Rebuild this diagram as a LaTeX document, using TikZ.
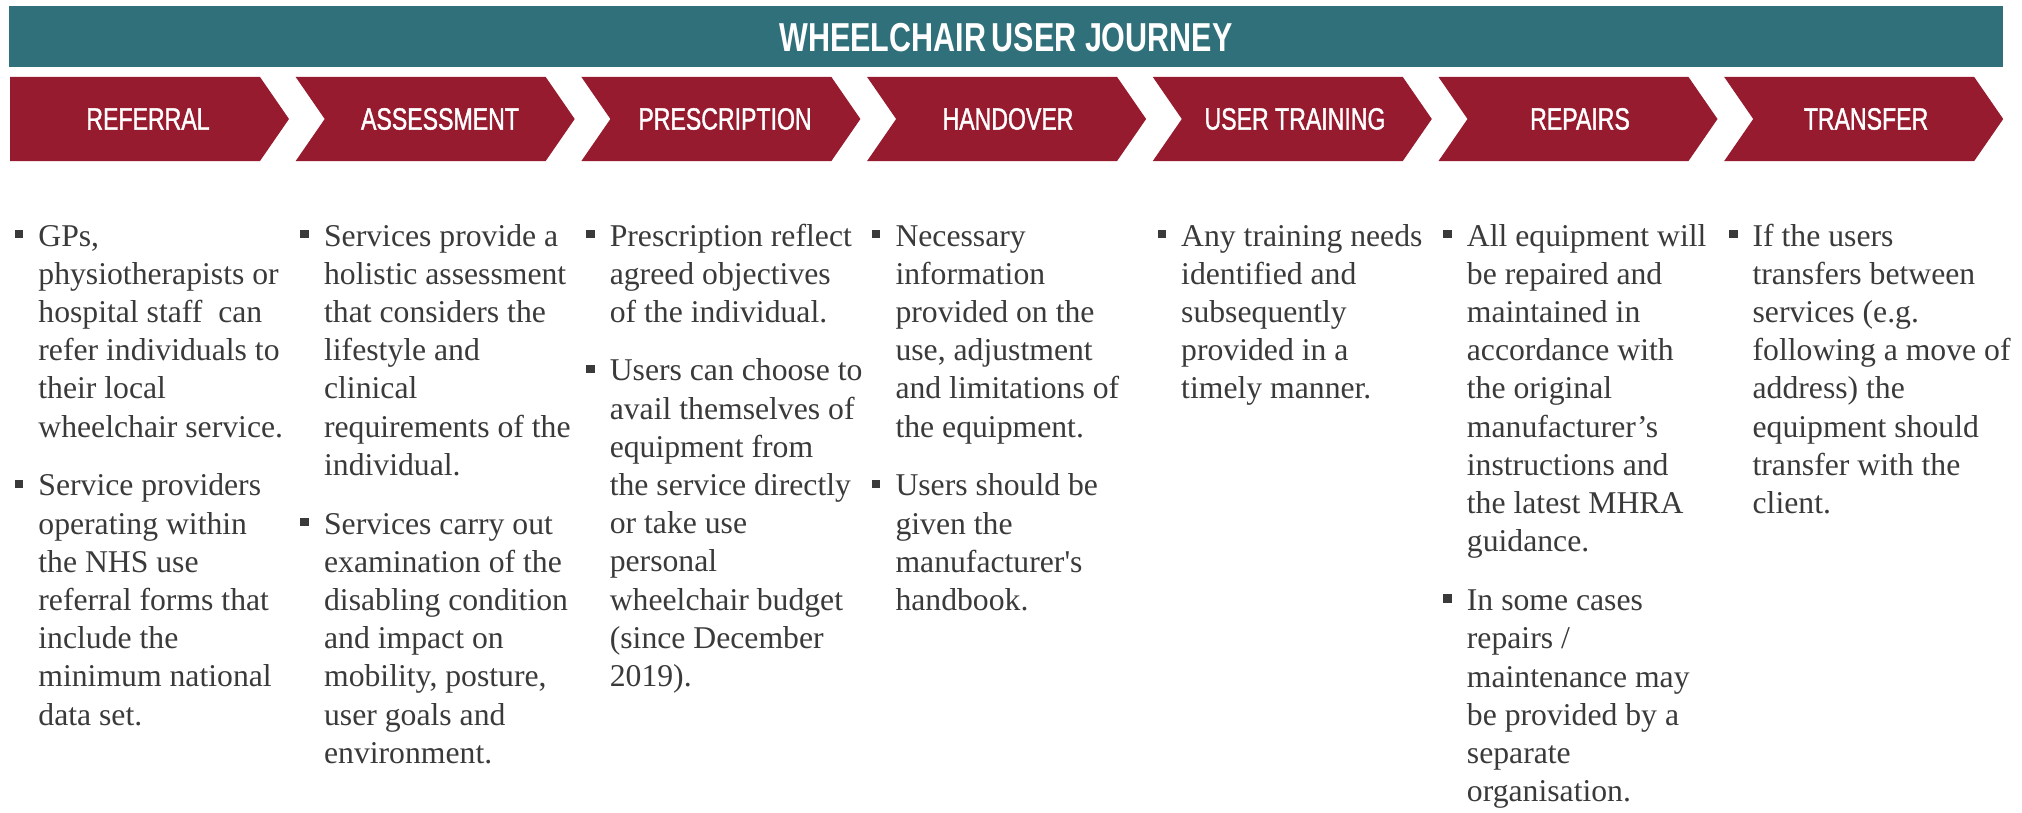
\documentclass[tikz,border=0pt]{standalone}
\usepackage{fontspec}
\setmainfont{Liberation Serif}
\newfontfamily\headfont[FakeStretch=0.75,FakeBold=1.2]{Liberation Sans}
\newfontfamily\titlefont[FakeStretch=0.755]{Liberation Sans}
\usetikzlibrary{calc}
\definecolor{tealbar}{RGB}{47,112,122}
\definecolor{wine}{RGB}{150,27,47}
\definecolor{ink}{RGB}{58,58,58}
\begin{document}
\begin{tikzpicture}[x=0.5pt,y=-0.5pt,
  chevfill/.style={fill=wine,draw=none},
  lab/.style={text=white,font=\headfont\fontsize{15.4}{16}\selectfont,inner sep=0},
  txt/.style={anchor=base west,inner sep=0,text=ink,font=\fontsize{15.85}{19.1}\selectfont},
  bul/.style={fill=ink,minimum size=4.3pt,inner sep=0,draw=none}]
\useasboundingbox (0,0) rectangle (2022,813);
% title bar
\fill[tealbar] (9,6) rectangle (2003,67);
\node[text=white,inner sep=0,font=\titlefont\bfseries\fontsize{20.2}{21}\selectfont] (title) at (1006,38) {WHEELCHAIR\kern-0.07em{} USER JOURNEY};
% chevrons
\fill[chevfill] (10,77) -- (260,77) -- (289,119) -- (260,161) -- (10,161) -- cycle;
\foreach \L in {295.7,581.4,867.1,1152.8,1438.5,1724.2}{
  \fill[chevfill] (\L,77) -- ({\L+250},77) -- ({\L+279},119) -- ({\L+250},161) -- (\L,161) -- ({\L+29},119) -- cycle;
}
\node[lab] (l1) at (148,119) {REFERRAL};
\node[lab] (l2) at (440,119) {ASSESSMENT};
\node[lab] (l3) at (725,119) {PRESCRIPTION};
\node[lab] (l4) at (1008,119) {HANDOVER};
\node[lab] (l5) at (1295,119) {USER TRAINING};
\node[lab] (l6) at (1580,119) {REPAIRS};
\node[lab] (l7) at (1866,119) {TRANSFER};
% column 1
\node[txt] (r1) at (38,246) {\begin{tabular}[t]{@{}l@{}}GPs,\\physiotherapists or\\hospital staff\ \ can\\refer individuals to\\their local\\wheelchair service.\end{tabular}};
\node[txt] (r2) at (38,495.8) {\begin{tabular}[t]{@{}l@{}}Service providers\\operating within\\the NHS use\\referral forms that\\include the\\minimum national\\data set.\end{tabular}};
% column 2
\node[txt] (a1) at (323.7,246) {\begin{tabular}[t]{@{}l@{}}Services provide a\\holistic assessment\\that considers the\\lifestyle and\\clinical\\requirements of\ the\\individual.\end{tabular}};
\node[txt] (a2) at (323.7,534.1) {\begin{tabular}[t]{@{}l@{}}Services carry out\\examination of the\\disabling condition\\and impact on\\mobility, posture,\\user goals and\\environment.\end{tabular}};
% column 3
\node[txt] (p1) at (609.4,246) {\begin{tabular}[t]{@{}l@{}}Prescription reflect\\agreed objectives\\of the individual.\end{tabular}};
\node[txt] (p2) at (609.4,380.9) {\begin{tabular}[t]{@{}l@{}}Users can choose to\\avail themselves of\\equipment from\\the service directly\\or take use\\personal\\wheelchair budget\\(since December\\2019).\end{tabular}};
% column 4
\node[txt] (h1) at (895.1,246) {\begin{tabular}[t]{@{}l@{}}Necessary\\information\\provided on the\\use, adjustment\\and limitations of\\the equipment.\end{tabular}};
\node[txt] (h2) at (895.1,495.8) {\begin{tabular}[t]{@{}l@{}}Users should be\\given the\\manufacturer\textquotesingle s\\handbook.\end{tabular}};
% column 5
\node[txt] (u1) at (1180.8,246) {\begin{tabular}[t]{@{}l@{}}Any training needs\\identified and\\subsequently\\provided in a\\timely manner.\end{tabular}};
% column 6
\node[txt] (s1) at (1466.5,246) {\begin{tabular}[t]{@{}l@{}}All equipment will\\be repaired and\\maintained in\\accordance with\\the original\\manufacturer’s\\instructions and\\the latest MHRA\\guidance.\end{tabular}};
\node[txt] (s2) at (1466.5,610.7) {\begin{tabular}[t]{@{}l@{}}In some cases\\repairs /\\maintenance may\\be provided by a\\separate\\organisation.\end{tabular}};
% column 7
\node[txt] (t1) at (1752.2,246) {\begin{tabular}[t]{@{}l@{}}If the users\\transfers between\\services (e.g.\\following a move of\\address) the\\equipment should\\transfer with the\\client.\end{tabular}};
% bullets
\foreach \n in {r1,r2,a1,a2,p1,p2,h1,h2,u1,s1,s2,t1}{
  \node[bul] (\n b) at ($(\n.base west)+(-19,-12)$) {};
}
\end{tikzpicture}
\end{document}
